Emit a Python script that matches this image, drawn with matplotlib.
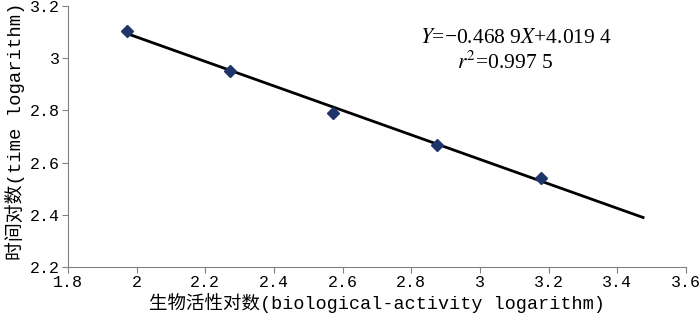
import matplotlib
matplotlib.use("Agg")
import matplotlib.pyplot as plt
import numpy as np

plt.rcParams["font.family"] = ["Liberation Mono", "Noto Sans CJK SC"]
plt.rcParams["mathtext.fontset"] = "stix"

# --- Daten ---
act_log = [1.972, 2.272, 2.572, 2.875, 3.178]     # biological-activity logarithm
time_log = [3.104, 2.951, 2.790, 2.667, 2.541]    # time logarithm
slope, intercept = -0.4689, 4.0194
fit_range = [1.972, 3.475]
xticks = [1.8, 2.0, 2.2, 2.4, 2.6, 2.8, 3.0, 3.2, 3.4, 3.6]
yticks = [2.2, 2.4, 2.6, 2.8, 3.0, 3.2]

fig = plt.figure(figsize=(7.0, 3.21), dpi=100)
ax = fig.add_axes([0.097, 0.168, 0.883, 0.813])

fx = np.array(fit_range)
ax.plot(fx, slope * fx + intercept, color="black", lw=2, zorder=2)
ax.plot(act_log, time_log, "D", color="#1f3468", ms=6.5, zorder=3)

ax.set_xlim(1.8, 3.6); ax.set_ylim(2.2, 3.2)
ax.set_xticks(xticks); ax.set_yticks(yticks)
ax.set_xticklabels([f"{v:g}" for v in xticks])
ax.set_yticklabels([f"{v:g}" for v in yticks])
ax.tick_params(direction="out", length=4, color="#808080", labelsize=12, pad=2)
for s in ["top", "right"]:
    ax.spines[s].set_visible(False)
for s in ["left", "bottom"]:
    ax.spines[s].set_color("#808080")

ax.set_xlabel("生物活性对数(biological-activity logarithm)", fontsize=13.3, labelpad=2)
ax.set_ylabel("时间对数(time logarithm)", fontsize=13.6)
ax.yaxis.set_label_coords(-0.07, 0.52)

eq_font = ["Liberation Serif"]
ax.text(0.725, 0.877, "$Y$=−0.468 9$X$+4.019 4", transform=ax.transAxes,
        ha="center", va="center", fontsize=15.5, family=eq_font)
ax.text(0.707, 0.785, "$r^2$=0.997 5", transform=ax.transAxes,
        ha="center", va="center", fontsize=15.5, family=eq_font)

fig.savefig("out.png", dpi=100)
